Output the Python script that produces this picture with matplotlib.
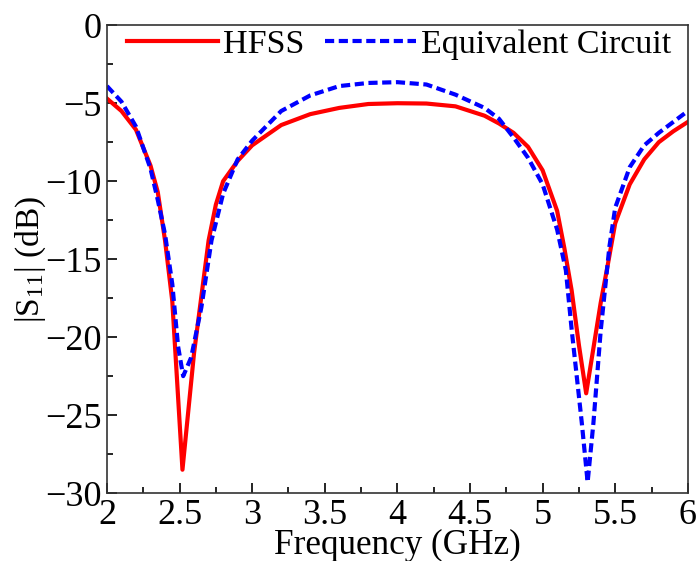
import numpy as np
import matplotlib
matplotlib.use("Agg")
import matplotlib.pyplot as plt
from matplotlib.ticker import MultipleLocator

# HFSS simulation
freq_hfss = np.array([2.0, 2.1, 2.2, 2.3, 2.35, 2.4, 2.45, 2.52, 2.6, 2.7, 2.75, 2.8,
                      2.9, 3.0, 3.2, 3.4, 3.6, 3.8, 4.0, 4.2, 4.4, 4.6, 4.7, 4.8,
                      4.9, 5.0, 5.1, 5.15, 5.2, 5.25, 5.3, 5.4, 5.45, 5.5, 5.6,
                      5.7, 5.8, 5.9, 6.0])
s11_hfss = np.array([-4.7, -5.5, -6.7, -9.0, -10.7, -13.8, -17.7, -28.5, -21.0, -13.8,
                     -11.5, -10.0, -8.7, -7.7, -6.4, -5.7, -5.3, -5.05, -5.0, -5.02,
                     -5.2, -5.8, -6.3, -6.9, -7.8, -9.3, -11.9, -14.3, -17.0, -20.5,
                     -23.6, -17.8, -15.3, -12.7, -10.2, -8.6, -7.5, -6.8, -6.2])

# Equivalent circuit
freq_ec = np.array([2.0, 2.1, 2.2, 2.3, 2.35, 2.4, 2.45, 2.49, 2.525, 2.58, 2.65, 2.72,
                    2.8, 2.9, 3.0, 3.2, 3.4, 3.6, 3.8, 4.0, 4.2, 4.4, 4.6, 4.7,
                    4.8, 4.9, 5.0, 5.1, 5.16, 5.2, 5.27, 5.31, 5.35, 5.4, 5.46,
                    5.5, 5.6, 5.7, 5.8, 5.9, 6.0])
s11_ec = np.array([-3.9, -4.9, -6.5, -9.2, -11.2, -13.4, -16.6, -20.6, -22.5, -21.3,
                   -18.1, -13.8, -10.8, -8.6, -7.4, -5.5, -4.5, -3.9, -3.7, -3.65,
                   -3.8, -4.45, -5.3, -6.0, -7.2, -8.5, -10.2, -13.1, -15.7, -19.5,
                   -25.5, -29.3, -25.5, -19.6, -14.2, -11.7, -9.1, -7.7, -6.9,
                   -6.2, -5.5])

plt.rcParams["font.family"] = ["Liberation Serif", "DejaVu Serif"]
plt.rcParams["mathtext.fontset"] = "stix"
plt.rcParams["font.size"] = 26

fig, ax = plt.subplots(figsize=(6.99, 5.61), dpi=100)
fig.subplots_adjust(left=0.153, right=0.984, bottom=0.121, top=0.955)

ax.plot(freq_hfss, s11_hfss, color="red", lw=3, label="HFSS")
ax.plot(freq_ec, s11_ec, color="blue", lw=3, dashes=(2.2, 1.1), label="Equivalent Circuit")

ax.set_xlim(2, 6)
ax.set_ylim(-30, 0)
ax.xaxis.set_minor_locator(MultipleLocator(0.25))
ax.yaxis.set_major_locator(MultipleLocator(5))
ax.yaxis.set_minor_locator(MultipleLocator(2.5))
ax.set_xticks(np.arange(2, 6.01, 0.5))
ax.set_xticklabels(["2", "2.5", "3", "3.5", "4", "4.5", "5", "5.5", "6"])
ax.tick_params(which="both", direction="in", top=False, right=False)
ax.tick_params(which="major", length=7, width=1.2, pad=4)
ax.tick_params(which="minor", length=4, width=1.2)
for sp in ax.spines.values():
    sp.set_color("#333333")
    sp.set_linewidth(1.2)

ax.set_xlabel("Frequency (GHz)", fontsize=25.3, labelpad=-2)
ax.set_ylabel(r"|S$_{\mathregular{11}}$| (dB)", fontsize=24, labelpad=-2.5)

ax.legend(loc="upper left", ncol=2, frameon=False, fontsize=24.5,
          handlelength=2.68, columnspacing=0.6, handletextpad=0.15,
          borderaxespad=0.0, bbox_to_anchor=(0.011, 1.021))

fig.savefig("out.png", dpi=100)
